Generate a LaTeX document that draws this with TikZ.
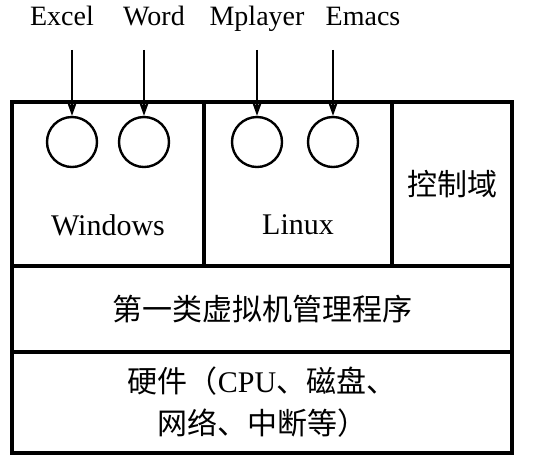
\documentclass[tikz,border=0pt]{standalone}
\usepackage{fontspec}
\setmainfont{Liberation Serif}
\newfontfamily\cjk{Noto Sans CJK SC}
\usetikzlibrary{arrows.meta,positioning}

\begin{document}
\begin{tikzpicture}[x=0.5pt,y=-0.5pt,>={Stealth[length=7pt,width=5pt,inset=2pt]},
            box/.style={draw,line width=1.6pt,inner sep=0pt,minimum height=82pt},
            app node/.style={draw,circle,line width=1.2pt,minimum size=25pt,inner sep=0pt},
            app label/.style={font=\fontsize{14}{16}\selectfont,inner sep=0pt,text height=0.7em,text depth=0.25em},
            main text/.style={font=\fontsize{15}{21}\selectfont,align=center,inner sep=0pt}]

        \useasboundingbox (0,0) rectangle (549,462);

        % Define boxes
        \node[box,minimum width=96pt] (win) at (108,184) {};
        \node[box,minimum width=94pt] (lin) at (298,184) {};
        \node[box,minimum width=60pt] (ctrl) at (452,184) {};
        \node[box,minimum width=250pt,minimum height=43pt] (hyp) at (262,309) {};
        \node[box,minimum width=250pt,minimum height=50.5pt] (hw) at (262,402.5) {};

        % Define applications
        \node[app node] (excel) at (72,142) {};
        \node[app node] (word) at (144,142) {};
        \node[app node] (mplayer) at (257,142) {};
        \node[app node] (emacs) at (333,142) {};

        \node[app label] (excel label) at (62,21) {Excel};
        \node[app label] (word label) at (154,21) {Word};
        \node[app label] (mplayer label) at (257,21) {Mplayer};
        \node[app label] (emacs label) at (363,21) {Emacs};

        % Box texts
        \node[main text] (win text) at (108,225) {Windows};
        \node[main text] (lin text) at (298,225) {Linux};
        \node[main text] (ctrl text) at (ctrl) {\cjk 控制域};
        \node[main text] (hyp text) at (hyp) {\cjk 第一类虚拟机管理程序};
        \node[main text] (hw text) at (hw) {{\cjk 硬件（}CPU{\cjk 、磁盘、}\\{\cjk 网络、中断等）}};

        % Draw edges
        \path[->,line width=0.7pt,shorten <=9.5pt]
            (excel |- excel label.south) edge (excel)
            (word |- word label.south) edge (word)
            (mplayer |- mplayer label.south) edge (mplayer)
            (emacs |- emacs label.south) edge (emacs);

        \end{tikzpicture}
\end{document}
